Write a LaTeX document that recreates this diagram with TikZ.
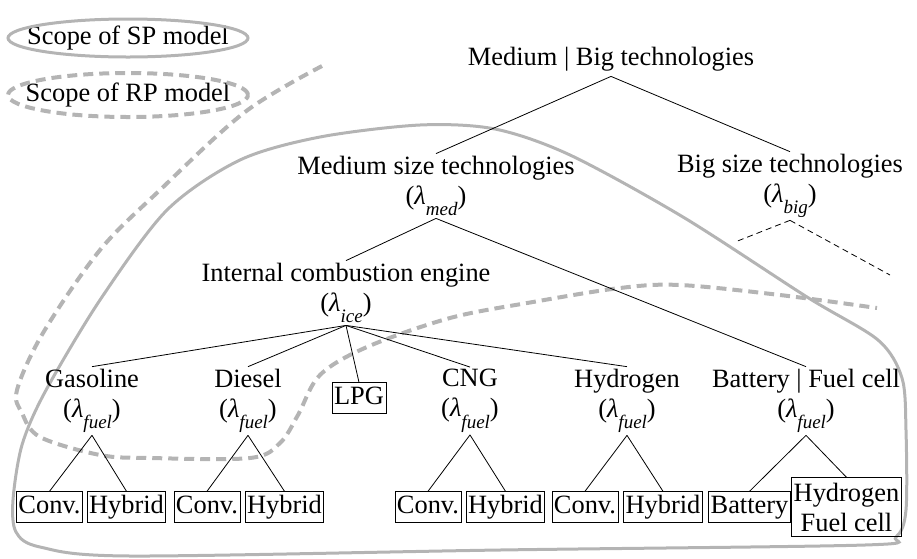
\documentclass[tikz,border=0pt]{standalone}
\usepackage{fontspec}
\setmainfont{Liberation Serif}
\usepackage{tikz}
\usetikzlibrary{calc}
\definecolor{sgray}{HTML}{B4B4B4}
\newcommand{\lamsub}[1]{(\textit{λ}\raisebox{-0.95ex}{\fontsize{9.5}{9.5}\selectfont\textit{#1}})}

\begin{document}
\begin{tikzpicture}[x=0.5pt, y=-0.5pt,
    font=\fontsize{13.2}{15}\selectfont,
    TXT/.style={align=center, inner sep=1pt, execute at begin node=\strut},
    BOX/.style={draw=black, thin, rectangle, inner xsep=1pt, inner ysep=1pt, text height=10pt, text depth=3.3pt},
    BOX2/.style={draw=black, thin, rectangle, inner xsep=1pt, inner ysep=2.5pt, align=center},
    SP/.style={draw=sgray, line width=1.5pt},
    RP/.style={draw=sgray, line width=2pt, dash pattern=on 5pt off 3pt}
    ]
        \useasboundingbox (0,0) rectangle (917,558);
        % scopes
        \node[inner sep=0pt] (SPL) at (128,38) {Scope of SP model};
        \draw[SP] (SPL.center) ellipse (60pt and 9.5pt);
        \node[inner sep=0pt] (RPL) at (128,95) {Scope of RP model};
        \draw[RP] (RPL.center) ellipse (60pt and 11pt);
        \draw[SP] plot[smooth cycle, tension=0.5] coordinates {(13,500) (22,445) (45,392) (100,300) (167,210) (240,160) (320,137) (420,125) (495,129) (570,155) (683,217) (807,297) (878,340) (902,378) (906,430) (906,510) (896,537) (865,545) (500,550) (130,556) (40,547) (16,532)};
        \draw[RP] plot[smooth, tension=0.55] coordinates {(322,66) (245,112) (160,190) (100,250) (43,333) (17,390) (22,413) (40,437) (100,455) (150,458) (250,458) (280,443) (298,415) (320,375) (367,347) (450,318) (533,302) (620,288) (680,285) (780,295) (877,308)};
        % tree
        \node[TXT] (MB) at (611,59) {Medium | Big technologies};
        \node[TXT] (MED) at (436,186) {Medium size technologies\\\lamsub{med}};
        \node[TXT] (BIG) at (790,186) {Big size technologies\\\lamsub{big}};
        \draw (MB.south) -- (MED.north);
        \draw (MB.south) -- (BIG.north);
        \coordinate (B1) at (735,242);
        \coordinate (B2) at (890,275);
        \draw[thin, densely dashed] (BIG.south) -- (B1);
        \draw[thin, densely dashed] (BIG.south) -- (B2);
        \node[TXT] (ICE) at (346,293) {Internal combustion engine\\\lamsub{ice}};
        \draw (MED.south) -- (ICE.north);
        \node[TXT] (GAS) at (92,401) {Gasoline\\\lamsub{fuel}};
        \node[TXT] (DIE) at (248,401) {Diesel\\\lamsub{fuel}};
        \node[BOX] (LPG) at (359,398) {LPG};
        \node[TXT] (CNG) at (470,401) {CNG\\\lamsub{fuel}};
        \node[TXT] (HYD) at (627,401) {Hydrogen\\\lamsub{fuel}};
        \node[TXT] (BFC) at (806,401) {Battery | Fuel cell\\\lamsub{fuel}};
        \draw (MED.south) -- (BFC.north);
        \draw (ICE.south) -- (GAS.north);
        \draw (ICE.south) -- (DIE.north);
        \draw (ICE.south) -- (LPG.north);
        \draw (ICE.south) -- (CNG.north);
        \draw (ICE.south) -- (HYD.north);
        % leaves
        \node[BOX] (GC) at (49.5,507) {Conv.};
        \node[BOX] (GH) at (126.5,507) {Hybrid};
        \node[BOX] (DC) at (207,507) {Conv.};
        \node[BOX] (DH) at (284.5,507) {Hybrid};
        \node[BOX] (CC) at (428,507) {Conv.};
        \node[BOX] (CH) at (505.5,507) {Hybrid};
        \node[BOX] (HC) at (585,507) {Conv.};
        \node[BOX] (HH) at (663,507) {Hybrid};
        \node[BOX] (BB) at (749.5,507) {Battery};
        \node[BOX2] (BF) at (846.5,507) {Hydrogen\\Fuel cell};
        \draw (GAS.south) -- (GC.north);
        \draw (GAS.south) -- (GH.north);
        \draw (DIE.south) -- (DC.north);
        \draw (DIE.south) -- (DH.north);
        \draw (CNG.south) -- (CC.north);
        \draw (CNG.south) -- (CH.north);
        \draw (HYD.south) -- (HC.north);
        \draw (HYD.south) -- (HH.north);
        \draw (BFC.south) -- (BB.north);
        \draw (BFC.south) -- (BF.north);
\end{tikzpicture}
\end{document}
